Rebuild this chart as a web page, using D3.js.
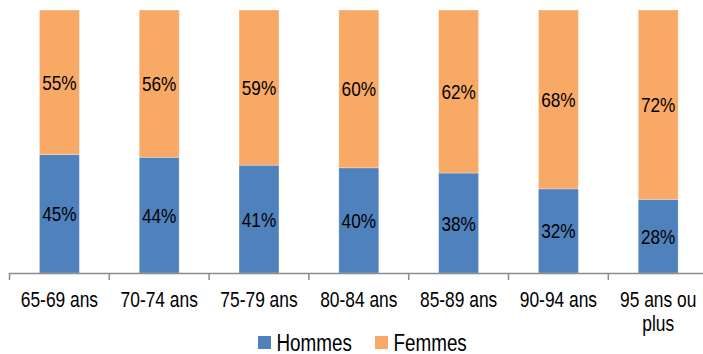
<!DOCTYPE html>
<html>
<head>
<meta charset="utf-8">
<script src="https://cdn.jsdelivr.net/npm/d3@7"></script>
<style>
  html, body { margin: 0; padding: 0; background: #fff; }
  svg { display: block; }
  text { font-family: "Liberation Sans", Arial, sans-serif; fill: #000; }
</style>
</head>
<body>
<svg id="chart" width="703" height="354"></svg>
<script>
// Age groups and share of each sex (percent)
const categories = ["65-69 ans", "70-74 ans", "75-79 ans", "80-84 ans", "85-89 ans", "90-94 ans", "95 ans ou plus"];
const hommes = [45, 44, 41, 40, 38, 32, 28];
const femmes = [55, 56, 59, 60, 62, 68, 72];
const seriesNames = ["Hommes", "Femmes"];
const seriesColors = ["#4F81BD", "#F9A966"];

const svg = d3.select("#chart");
const margin = { left: 9.5, top: 10, bottom: 81 };
const bandW = 99.8;
const plotBottom = 354 - margin.bottom;

// Place a text element at (px, py) with a condensed horizontal scale
function placeNarrow(sel, px, py, k = 0.82) {
  sel.attr("x", 0).attr("y", 0)
     .attr("transform", `translate(${px},${py}) scale(${k},1)`);
}

const rows = categories.map((c, i) => ({ cat: c, Hommes: hommes[i], Femmes: femmes[i] }));
const stacked = d3.stack().keys(seriesNames)(rows);

const x = d3.scaleBand()
  .domain(categories)
  .range([margin.left, margin.left + bandW * categories.length])
  .paddingInner(0.6)
  .paddingOuter(0.3);

const y = d3.scaleLinear().domain([0, 100]).range([plotBottom, margin.top]);

// Stacked bars
const layers = svg.append("g").selectAll("g")
  .data(stacked)
  .join("g")
  .attr("fill", (d, i) => seriesColors[i]);

layers.selectAll("rect")
  .data(d => d)
  .join("rect")
  .attr("x", d => x(d.data.cat))
  .attr("width", x.bandwidth())
  .attr("y", d => y(d[1]))
  .attr("height", d => y(d[0]) - y(d[1]))
  .attr("stroke", "#ffffff")
  .attr("stroke-opacity", 0.35)
  .attr("stroke-width", 0.8);

// Value labels centred in each segment
layers.selectAll("text")
  .data(d => d)
  .join("text")
  .attr("dy", "0.36em")
  .attr("text-anchor", "middle")
  .attr("font-size", 21)
  .text(d => (d[1] - d[0]) + "%")
  .each(function(d) {
    placeNarrow(d3.select(this), x(d.data.cat) + x.bandwidth() / 2, (y(d[0]) + y(d[1])) / 2);
  });

// Category axis
const axisG = svg.append("g");
const axisColor = "#8c8c8c";
axisG.append("line")
  .attr("x1", margin.left).attr("x2", margin.left + bandW * categories.length)
  .attr("y1", plotBottom + 0.5).attr("y2", plotBottom + 0.5)
  .attr("stroke", axisColor).attr("stroke-width", 1.5);

const tickPos = d3.range(categories.length + 1).map(i => margin.left + i * bandW);
axisG.selectAll("line.tick")
  .data(tickPos)
  .join("line")
  .attr("class", "tick")
  .attr("x1", d => d).attr("x2", d => d)
  .attr("y1", plotBottom).attr("y2", plotBottom + 7)
  .attr("stroke", axisColor).attr("stroke-width", 1.5);

// Category labels, wrapped to two lines when too long
const labels = axisG.selectAll("text")
  .data(categories)
  .join("text")
  .attr("text-anchor", "middle")
  .attr("font-size", 22)
  .each(function(d) {
    placeNarrow(d3.select(this), x(d) + x.bandwidth() / 2, plotBottom + 34, 0.79);
  });

labels.each(function(d) {
  const t = d3.select(this);
  const lines = d.length > 10 ? ["95 ans ou", "plus"] : [d];
  lines.forEach((ln, i) => {
    t.append("tspan")
      .attr("x", 0)
      .attr("dy", i === 0 ? 0 : 24)
      .text(ln);
  });
});

// Legend
const legend = svg.append("g");
const legendItems = [
  { name: seriesNames[0], color: seriesColors[0], x: 258 },
  { name: seriesNames[1], color: seriesColors[1], x: 375 }
];
legendItems.forEach(it => {
  legend.append("rect")
    .attr("x", it.x).attr("y", 336)
    .attr("width", 13).attr("height", 13)
    .attr("fill", it.color);
  legend.append("text")
    .attr("font-size", 23)
    .text(it.name)
    .call(placeNarrow, it.x + 18.5, 350.5);
});
</script>
</body>
</html>
